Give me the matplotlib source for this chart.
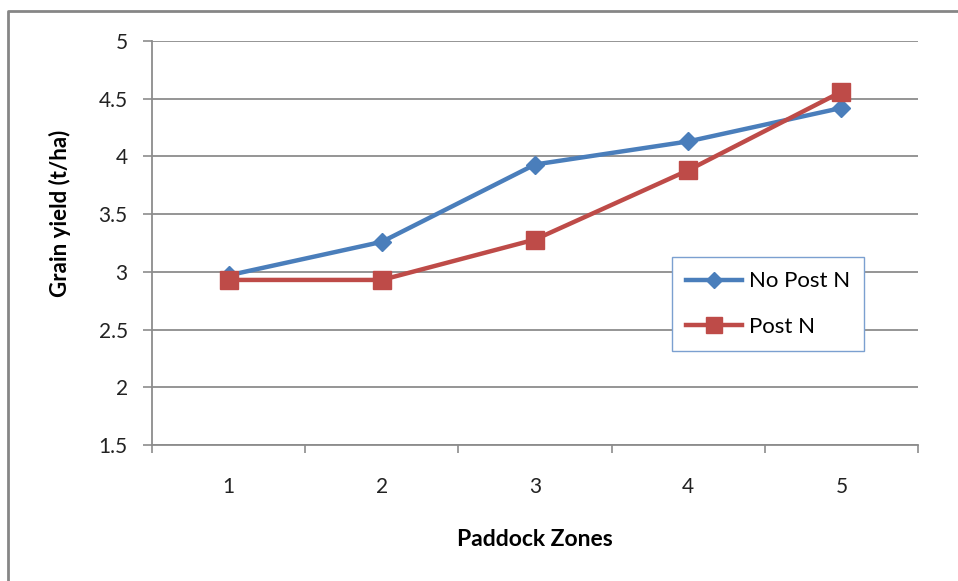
import matplotlib.pyplot as plt
from matplotlib.lines import Line2D
from matplotlib.ticker import FixedLocator, NullFormatter

# Grain yield by paddock zone
zones = [1, 2, 3, 4, 5]
zone_labels = ["1", "2", "3", "4", "5"]
no_post_n = [2.97, 3.26, 3.93, 4.13, 4.42]
post_n = [2.93, 2.93, 3.28, 3.88, 4.56]
y_ticks = [1.5, 2, 2.5, 3, 3.5, 4, 4.5, 5]

plt.rcParams["font.family"] = ["Lato", "DejaVu Sans"]

GRID = "#8c8c8c"
BLUE = "#4a7ebb"
RED = "#be4b48"

fig = plt.figure(figsize=(9.58, 5.81), dpi=100)
ax = fig.add_axes([152 / 958, 1 - 445 / 581, (918 - 152) / 958, (445 - 41) / 581])

ax.plot(zones, no_post_n, color=BLUE, linewidth=3.2, marker="D", markersize=9.5,
        label="No Post N", zorder=3)
ax.plot(zones, post_n, color=RED, linewidth=3.2, marker="s", markersize=13.5,
        label="Post N", zorder=4)

ax.set_xlim(0.5, 5.5)
ax.set_ylim(1.5, 5)

# y axis
ax.set_yticks(y_ticks)
ax.set_yticklabels(["1.5", "2", "2.5", "3", "3.5", "4", "4.5", "5"])
ax.yaxis.grid(True, color=GRID, linewidth=1.3)
ax.tick_params(axis="y", length=6.5, width=1.2, color=GRID, pad=11,
               labelsize=15, labelcolor="#222222")

# category axis: ticks between categories, labels centred
ax.set_xticks(zones)
ax.set_xticklabels(zone_labels)
ax.xaxis.set_minor_locator(FixedLocator([0.5, 1.5, 2.5, 3.5, 4.5, 5.5]))
ax.xaxis.set_minor_formatter(NullFormatter())
ax.tick_params(axis="x", which="major", length=0, pad=23,
               labelsize=15, labelcolor="#222222")
ax.tick_params(axis="x", which="minor", length=6, width=1.2, color=GRID)

for side in ("top", "right"):
    ax.spines[side].set_visible(False)
for side in ("left", "bottom"):
    ax.spines[side].set_color(GRID)
    ax.spines[side].set_linewidth(1.3)
ax.set_axisbelow(True)

fig.text(60 / 958, 1 - 213 / 581, "Grain yield (t/ha)", fontsize=16,
         fontweight="bold", rotation=90, ha="center", va="center")
fig.text(535 / 958, 1 - 540 / 581, "Paddock Zones", fontsize=16.5,
         fontweight="bold", ha="center", va="center")

leg = ax.legend(loc="upper left", bbox_to_anchor=(672 / 958, 1 - 257 / 581),
                bbox_transform=fig.transFigure, fontsize=16, frameon=True,
                fancybox=False, framealpha=1, edgecolor="#7ba0d0",
                labelspacing=1.15, handlelength=2.5, handletextpad=0.3,
                borderpad=0.65, borderaxespad=0, markerscale=0.9)
leg.get_frame().set_linewidth(1.0)

# chart border on the left and top
fig.add_artist(Line2D([8 / 958, 8 / 958, 1.0], [0.0, 1 - 11 / 581, 1 - 11 / 581],
                      transform=fig.transFigure, color="#868686", linewidth=2))

fig.savefig("out.png", dpi=100)
